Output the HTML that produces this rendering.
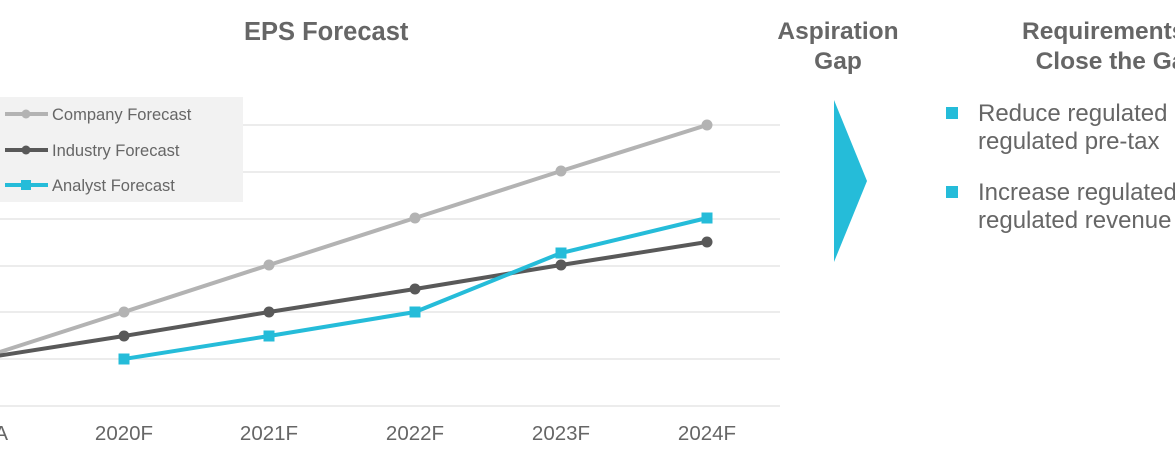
<!DOCTYPE html>
<html><head><style>
html,body{margin:0;padding:0;background:#fff;width:1175px;height:455px;overflow:hidden;position:relative;font-family:"Liberation Sans",sans-serif}
.t{position:absolute;font-weight:bold;color:#666;font-size:24.5px;white-space:nowrap}
.b{position:absolute;color:#666;font-size:24px;line-height:28px;white-space:nowrap}
.sq{position:absolute;width:12px;height:12px;background:#25bcd9}
.clip{position:absolute;left:930px;top:0;width:245px;height:300px;overflow:hidden}
</style></head><body>
<svg width="1175" height="455" style="position:absolute;left:0;top:0">
<g stroke="#e6e6e6" stroke-width="1.5">
<line x1="0" y1="125" x2="780" y2="125"/><line x1="0" y1="172" x2="780" y2="172"/>
<line x1="0" y1="219" x2="780" y2="219"/><line x1="0" y1="266" x2="780" y2="266"/>
<line x1="0" y1="312" x2="780" y2="312"/><line x1="0" y1="359" x2="780" y2="359"/>
<line x1="0" y1="406" x2="780" y2="406"/>
</g>
<rect x="0" y="97" width="243" height="105" fill="#f2f2f2"/>
<g stroke-width="4" fill="none">
<line x1="5" y1="114" x2="48" y2="114" stroke="#b3b3b3"/>
<line x1="5" y1="150" x2="48" y2="150" stroke="#595959"/>
<line x1="5" y1="185" x2="48" y2="185" stroke="#25bcd9"/>
</g>
<circle cx="26" cy="114" r="4.5" fill="#b3b3b3"/>
<circle cx="26" cy="150" r="4.5" fill="#595959"/>
<rect x="21" y="180" width="10" height="10" fill="#25bcd9"/>
<g font-family="Liberation Sans" font-size="16.5" fill="#666">
<text x="52" y="120">Company Forecast</text>
<text x="52" y="156">Industry Forecast</text>
<text x="52" y="191">Analyst Forecast</text>
</g>
<polyline points="-22,359 124,312 269,265 415,218 561,171 707,125" stroke="#b3b3b3" stroke-width="4" fill="none"/>
<g fill="#b3b3b3"><circle cx="124" cy="312" r="5.5"/><circle cx="269" cy="265" r="5.5"/><circle cx="415" cy="218" r="5.5"/><circle cx="561" cy="171" r="5.5"/><circle cx="707" cy="125" r="5.5"/></g>
<polyline points="-22,359 124,336 269,312 415,289 561,265 707,242" stroke="#595959" stroke-width="4" fill="none"/>
<g fill="#595959"><circle cx="124" cy="336" r="5.5"/><circle cx="269" cy="312" r="5.5"/><circle cx="415" cy="289" r="5.5"/><circle cx="561" cy="265" r="5.5"/><circle cx="707" cy="242" r="5.5"/></g>
<polyline points="124,359 269,336 415,312 561,253 707,218" stroke="#25bcd9" stroke-width="4" fill="none"/>
<g fill="#25bcd9"><rect x="118.5" y="353.5" width="11" height="11"/><rect x="263.5" y="330.5" width="11" height="11"/><rect x="409.5" y="306.5" width="11" height="11"/><rect x="555.5" y="247.5" width="11" height="11"/><rect x="701.5" y="212.5" width="11" height="11"/></g>
<g font-family="Liberation Sans" font-size="20.5" fill="#666" text-anchor="middle">
<text x="8" y="440" text-anchor="end">A</text><text x="124" y="440">2020F</text><text x="269" y="440">2021F</text><text x="415" y="440">2022F</text><text x="561" y="440">2023F</text><text x="707" y="440">2024F</text>
</g>
<polygon points="834,100 867,181 834,262" fill="#25bcd9"/>
</svg>
<div class="t" style="left:244px;top:18px;font-size:25.5px">EPS Forecast</div>
<div class="t" style="left:760px;top:17px;width:156px;text-align:center;line-height:30px">Aspiration<br>Gap</div>
<div class="clip">
<div class="t" style="left:92px;top:17px;line-height:30px">Requirements to<br>&nbsp;&nbsp;Close the Gap</div>
<div class="sq" style="left:16px;top:107px"></div>
<div class="b" style="left:48px;top:100px">Reduce regulated cost to<br>regulated pre-tax</div>
<div class="sq" style="left:16px;top:186px"></div>
<div class="b" style="left:48px;top:179px">Increase regulated rate to<br>regulated revenue</div>
</div>
</body></html>
